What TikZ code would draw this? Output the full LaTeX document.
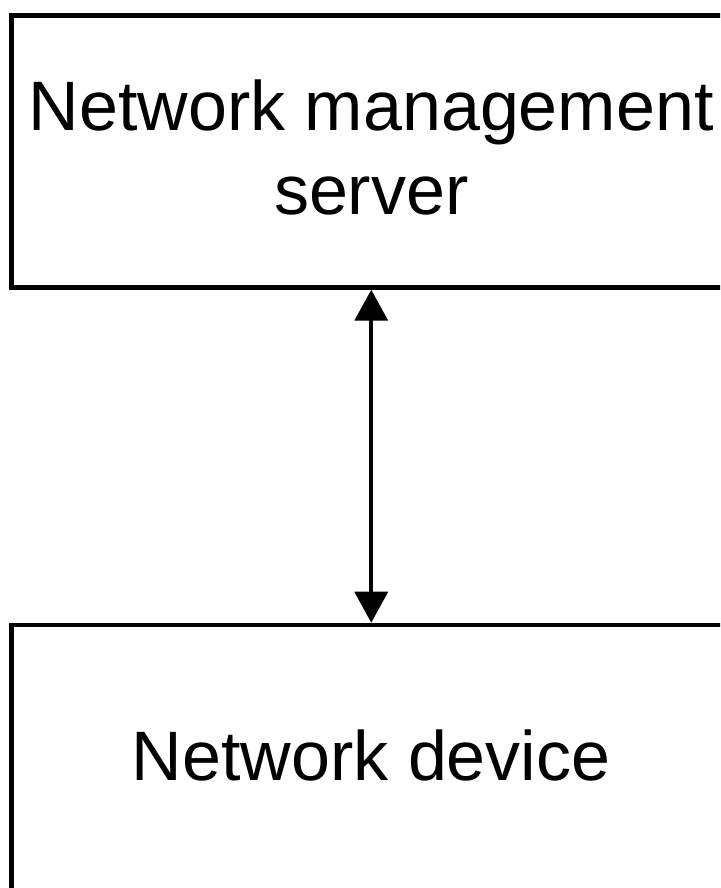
\documentclass[tikz,border=0pt]{standalone}
\usepackage{fontspec}
\setmainfont{Liberation Sans}
\usetikzlibrary{arrows.meta}
\tikzset{
  boxnode/.style={draw=black, line width=4.5pt, inner sep=0pt, outer sep=2.25pt, rectangle, minimum width=719.5pt},
  labeltext/.style={anchor=base, inner sep=0pt, font=\fontsize{70}{84}\selectfont},
  link/.style={line width=3.7pt, {Triangle[width=33pt,length=31pt]}-{Triangle[width=33pt,length=31pt]}}
}
\begin{document}
\begin{tikzpicture}[x=1pt,y=1pt]
  \clip (0,0) rectangle (720,888);
  \fill[white] (0,0) rectangle (720,888);
  \node[boxnode, minimum height=272pt] (nms) at (371.25,736.5) {};
  \node[boxnode, minimum height=280pt] (dev) at (371.25,123) {};
  \node[labeltext] (nmsA) at (371.25,757) {Network management};
  \node[labeltext] (nmsB) at (371.25,673) {server};
  \node[labeltext] (devA) at (371.25,107) {Network device};
  \draw[link] (nms.south) -- (dev.north);
\end{tikzpicture}
\end{document}
